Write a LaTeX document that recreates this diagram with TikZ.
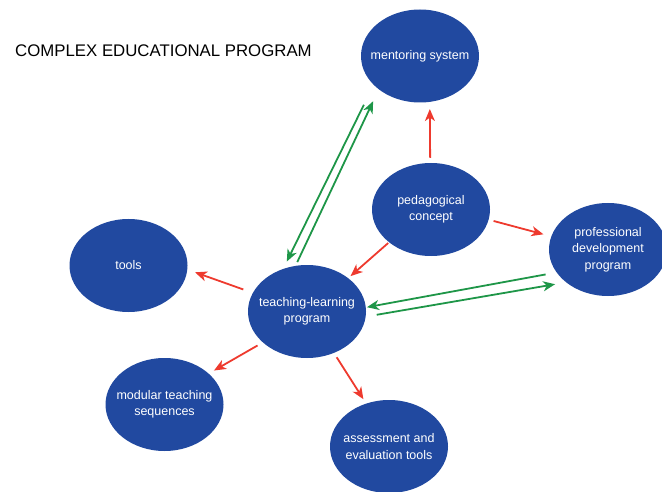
\documentclass[tikz,border=0pt]{standalone}
\usepackage{fontspec}
\setmainfont{Liberation Sans}
\usetikzlibrary{arrows.meta}
\usetikzlibrary{shapes.geometric}

\definecolor{discblue}{RGB}{33,73,160}
\definecolor{linkred}{RGB}{238,58,46}
\definecolor{linkgreen}{RGB}{30,150,72}

\begin{document}
\begin{tikzpicture}[
    x=1pt, y=-1pt,              % work in image pixels, y going down
    ]
% -------------------------------------------------
\tikzset{
  disc/.style={ellipse, fill=discblue, minimum width=118pt, minimum height=93pt,
    inner sep=-12pt, text=white, align=center, font=\fontsize{12.5}{16.5}\selectfont},
  head/.style={-{Stealth[length=12pt, width=10pt, inset=3.5pt]}},
  redline/.style={draw=linkred, line width=1.8pt, head},
  greenline/.style={draw=linkgreen, line width=1.8pt, head}
}
% -------------------------------------------------
\useasboundingbox (0,0) rectangle (662,492);

\node[anchor=west, inner sep=0pt, font=\fontsize{16.8}{20}\selectfont] (title) at (15,51)
  {COMPLEX EDUCATIONAL PROGRAM};

% Placing the discs
\node[disc] (ment)   at (420,56)    {mentoring system};
\node[disc] (ped)    at (431,209.5) {pedagogical\\concept};
\node[disc] (prof)   at (608,249.5) {professional\\development\\program};
\node[disc] (tools)  at (128.5,265.5) {tools};
\node[disc] (teach)  at (307,311.5) {teaching-learning\\program};
\node[disc] (mod)    at (164.5,404.5) {modular teaching\\sequences};
\node[disc] (assess) at (389,446.5) {assessment and\\evaluation tools};

% Red links
\path [redline, shorten <=5pt, shorten >=7pt] (ped.91) -- (ment.-78);
\path [redline, shorten <=5pt, shorten >=8pt] (ped.-10) -- (prof.167);
\path [redline, shorten <=1pt, shorten >=3pt] (ped.218) -- (teach.39.5);
\path [redline, shorten <=10pt, shorten >=8pt] (teach.161.5) -- (tools.-4.5);
\path [redline, shorten <=6pt, shorten >=6pt] (teach.-145) -- (mod.35);
\path [redline, shorten <=5pt, shorten >=5pt] (teach.-57) -- (assess.118.6);

% Green links, both ways
\path [greenline, shorten <=22pt, shorten >=8pt] (ment.-148) -- (teach.119.5);
\path [greenline, shorten <=4pt, shorten >=13pt] (teach.104.7) -- (ment.-141.7);
\path [greenline, shorten <=11pt, shorten >=1pt] (prof.204.5) -- (teach.4.6);
\path [greenline, shorten <=11pt, shorten >=11pt] (teach.-5.6) -- (prof.-142.7);

\end{tikzpicture}
\end{document}
